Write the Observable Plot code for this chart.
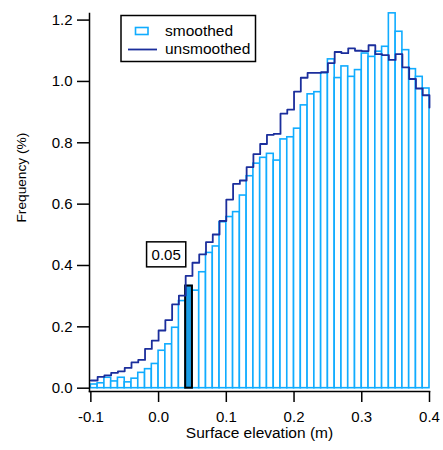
<!DOCTYPE html>
<html><head><meta charset="utf-8">
<script src="https://cdn.jsdelivr.net/npm/d3@7"></script>
<script src="https://cdn.jsdelivr.net/npm/@observablehq/plot@0.6"></script>
<style>
body{margin:0;background:#fff;}
#wrap{position:relative;width:443px;height:450px;font-family:"Liberation Sans",Arial,sans-serif;}
#wrap svg{display:block;}
#legend{position:absolute;left:0;top:0;pointer-events:none;}
</style></head><body><div id="wrap"></div>
<script>
// bin starts (m), bin width 0.01
const binStart = [-0.10,-0.09,-0.08,-0.07,-0.06,-0.05,-0.04,-0.03,-0.02,-0.01,
  0.00,0.01,0.02,0.03,0.04,0.05,0.06,0.07,0.08,0.09,
  0.10,0.11,0.12,0.13,0.14,0.15,0.16,0.17,0.18,0.19,
  0.20,0.21,0.22,0.23,0.24,0.25,0.26,0.27,0.28,0.29,
  0.30,0.31,0.32,0.33,0.34,0.35,0.36,0.37,0.38,0.39];
const binWidth = 0.01;
const smoothed = [0.012,0.016,0.034,0.022,0.034,0.019,0.031,0.050,0.062,0.079,
  0.122,0.143,0.197,0.284,0.333,0.318,0.378,0.441,0.462,0.541,
  0.558,0.574,0.628,0.691,0.732,0.751,0.764,0.742,0.811,0.818,
  0.846,0.922,0.958,0.965,1.027,1.072,1.011,1.049,1.015,1.037,
  1.091,1.080,1.097,1.113,1.222,1.162,1.102,1.040,1.015,0.977];
const unsmoothed = [0.025,0.037,0.042,0.050,0.055,0.066,0.084,0.092,0.128,0.155,
  0.188,0.222,0.273,0.302,0.366,0.409,0.436,0.476,0.501,0.545,
  0.615,0.666,0.677,0.721,0.763,0.796,0.826,0.829,0.895,0.908,
  0.967,1.012,1.028,1.028,1.030,1.060,1.096,1.092,1.108,1.100,
  1.099,1.118,1.089,1.086,1.070,1.089,1.046,1.008,0.977,0.955];
const unsmoothedEnd = 0.915;
const highlightBin = [0.04];
const highlightValue = [0.333];
const highlightLabel = ["0.05"];
const xTicks = [-0.1,0.0,0.1,0.2,0.3,0.4];
const yTicks = [0.0,0.2,0.4,0.6,0.8,1.0,1.2];
const seriesNames = ["smoothed","unsmoothed"];
const xLabel = "Surface elevation (m)";
const yLabel = "Frequency (%)";

const barColor = "#10acff";
const lineColor = "#1b2e9c";
const hiColor = "#1b9ee6";

const bars = binStart.map((x, i) => ({x1: x, x2: x + binWidth, base: 0, v: smoothed[i]}));
const linePts = binStart.map((x, i) => ({x, v: unsmoothed[i]}));
linePts.push({x: binStart[binStart.length - 1] + binWidth, v: unsmoothedEnd});
const hi = highlightBin.map((x, i) => ({x1: x, x2: x + binWidth, base: 0, v: highlightValue[i], label: highlightLabel[i]}));

const chart = Plot.plot({
  width: 443, height: 450,
  marginLeft: 89, marginRight: 14, marginTop: 13, marginBottom: 59,
  style: {fontFamily: '"Liberation Sans", Arial, sans-serif', background: "white", color: "black"},
  x: {domain: [-0.102, 0.4]},
  y: {domain: [-0.0108, 1.2215]},
  marks: [
    Plot.rectY(bars, {x1: "x1", x2: "x2", y1: "base", y2: "v", fill: "white", stroke: barColor, strokeWidth: 1.6}),
    Plot.rectY(hi, {x1: "x1", x2: "x2", y1: "base", y2: "v", fill: hiColor, stroke: "black", strokeWidth: 2}),
    Plot.line(linePts, {x: "x", y: "v", curve: "step-after", stroke: lineColor, strokeWidth: 1.8}),
    Plot.text(hi, {x: "x1", y: "v", text: "label", dx: -19.5, dy: -31, fontSize: 15, fill: "black"}),
    Plot.frame({anchor: "left", strokeWidth: 1.5}),
    Plot.frame({anchor: "bottom", strokeWidth: 1.5}),
    Plot.axisX({ticks: xTicks, tickFormat: d => d.toFixed(1), tickSize: 11, tickPadding: 9, fontSize: 15, label: null, strokeWidth: 1.5}),
    Plot.axisY({ticks: yTicks, tickFormat: d => d.toFixed(1), tickSize: 12, tickPadding: 5, fontSize: 15, label: null, strokeWidth: 1.5}),
    Plot.text([xLabel], {frameAnchor: "bottom", dy: 46, fontSize: 15.5, fill: "black"}),
    Plot.text([yLabel], {frameAnchor: "left", rotate: -90, dx: -68, dy: 20, fontSize: 13.7, fill: "black"})
  ]
});
const wrap = document.getElementById("wrap");
wrap.append(chart);

// box around annotation label(s)
chart.querySelectorAll('g[aria-label="text"] text').forEach(t => {
  if (!highlightLabel.includes(t.textContent)) return;
  const bb = t.getBBox();
  const r = document.createElementNS("http://www.w3.org/2000/svg", "rect");
  const px = 5, py = 4.5;
  r.setAttribute("x", bb.x - px);
  r.setAttribute("y", bb.y - py + 0.5);
  r.setAttribute("width", bb.width + 2 * px);
  r.setAttribute("height", bb.height + 2 * py - 1);
  r.setAttribute("fill", "white");
  r.setAttribute("stroke", "black");
  r.setAttribute("stroke-width", 1.5);
  if (t.getAttribute("transform")) r.setAttribute("transform", t.getAttribute("transform"));
  t.parentNode.insertBefore(r, t);
});

// legend
const ns = "http://www.w3.org/2000/svg";
const lg = document.createElementNS(ns, "svg");
lg.setAttribute("id", "legend");
lg.setAttribute("width", 443);
lg.setAttribute("height", 450);
function el(name, attrs, text) {
  const e = document.createElementNS(ns, name);
  for (const k in attrs) e.setAttribute(k, attrs[k]);
  if (text) e.textContent = text;
  lg.append(e);
  return e;
}
el("rect", {x: 121, y: 15.5, width: 134.5, height: 46, fill: "white", stroke: "black", "stroke-width": 1.5});
el("rect", {x: 135.5, y: 27.5, width: 12.5, height: 7, fill: "white", stroke: barColor, "stroke-width": 1.6});
el("line", {x1: 128, x2: 157, y1: 49.5, y2: 49.5, stroke: lineColor, "stroke-width": 1.8});
el("text", {x: 165, y: 36, "font-size": 15.5, "font-family": '"Liberation Sans", Arial, sans-serif'}, seriesNames[0]);
el("text", {x: 165, y: 54, "font-size": 15.5, "font-family": '"Liberation Sans", Arial, sans-serif'}, seriesNames[1]);
wrap.append(lg);
</script></body></html>
